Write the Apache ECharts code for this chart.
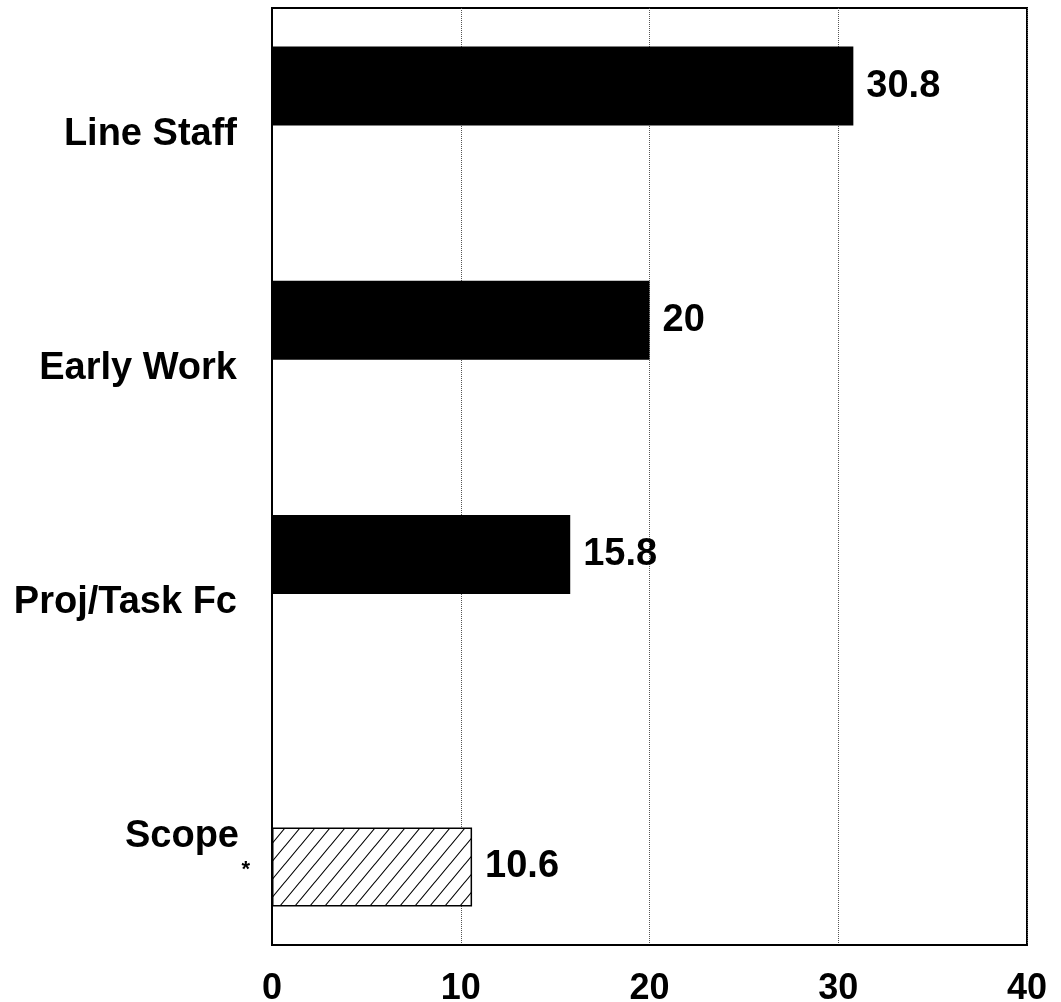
<!DOCTYPE html>
<html>
<head>
<meta charset="utf-8">
<style>
  html, body { margin: 0; padding: 0; background: #ffffff; }
  #chart { width: 1061px; height: 1002px; }
</style>
<script src="https://cdn.jsdelivr.net/npm/echarts@6/dist/echarts.min.js"></script>
</head>
<body>
<div id="chart"></div>
<script>
// ---- data ----
const categories = ['Line Staff', 'Early Work', 'Proj/Task Fc', 'Scope'];
const values = [30.8, 20, 15.8, 10.6];
const xTicks = [0, 10, 20, 30, 40];
const footnoteMark = '*';          // marker printed after "Scope"
const hatchedCategory = 'Scope';

// ---- layout of category slots (axis has 13 evenly spaced points) ----
const slotCount = 13;
const slotOf = [1, 4, 7, 11];

const axisCats = new Array(slotCount).fill('');
slotOf.forEach((s, i) => { axisCats[s] = categories[i]; });
const seriesData = new Array(slotCount).fill(null);

// hatch pattern
function makeHatch() {
  const w = 15, h = 18;
  const c = document.createElement('canvas');
  c.width = w; c.height = h;
  const g = c.getContext('2d');
  g.fillStyle = '#ffffff';
  g.fillRect(0, 0, w, h);
  g.strokeStyle = '#000000';
  g.lineWidth = 1.1;
  g.beginPath();
  for (let k = -1; k <= 1; k++) {
    g.moveTo(k * w - 2, h + 2 * h / w);
    g.lineTo(k * w + w + 2, -2 * h / w);
  }
  g.stroke();
  return c;
}

slotOf.forEach((s, i) => {
  const item = { value: values[i] };
  if (categories[i] === hatchedCategory) {
    item.itemStyle = {
      color: { image: makeHatch(), repeat: 'repeat' },
      borderColor: '#000000',
      borderWidth: 1.5
    };
  }
  seriesData[s] = item;
});

const FONT = "'Liberation Sans', Arial, sans-serif";

const chart = echarts.init(document.getElementById('chart'), null, { renderer: 'canvas' });
chart.setOption({
  animation: false,
  backgroundColor: '#ffffff',
  grid: {
    left: 272, right: 34, top: 8, bottom: 57,
    containLabel: false,
    outerBoundsMode: 'none',
    show: true, borderColor: '#000000', borderWidth: 2, backgroundColor: 'transparent'
  },
  xAxis: {
    type: 'value',
    min: xTicks[0], max: xTicks[xTicks.length - 1], interval: 10,
    axisLine: { show: true, lineStyle: { color: '#000', width: 2 } },
    axisTick: { show: false },
    splitLine: { show: true, lineStyle: { color: '#555', type: 'dotted', width: 1 } },
    axisLabel: {
      margin: 26, color: '#000', fontFamily: FONT, fontWeight: 'bold', fontSize: 36
    }
  },
  yAxis: {
    type: 'category',
    inverse: true,
    boundaryGap: false,
    data: axisCats,
    axisLine: { show: true, lineStyle: { color: '#000', width: 2 } },
    axisTick: { show: false },
    splitLine: { show: false },
    axisLabel: {
      interval: 0,
      margin: 22,
      color: '#000',
      fontFamily: FONT, fontWeight: 'bold', fontSize: 38,
      formatter: function (v) {
        if (!v) return '';
        if (v === hatchedCategory) return '{s|' + v + '}\n{a|' + footnoteMark + '}';
        return '{n|' + v + '}';
      },
      rich: {
        n: { fontFamily: FONT, fontWeight: 'bold', fontSize: 38, color: '#000', padding: [96, 13, 0, 0] },
        s: { fontFamily: FONT, fontWeight: 'bold', fontSize: 38, color: '#000', padding: [0, 11, 0, 0] },
        a: { fontFamily: FONT, fontWeight: 'bold', fontSize: 22, color: '#000', padding: [3, 0, 35, 0] }
      }
    }
  },
  series: [{
    type: 'bar',
    data: seriesData,
    barWidth: 79,
    itemStyle: { color: '#000000' },
    label: {
      show: true,
      position: 'right',
      distance: 13,
      color: '#000',
      fontFamily: FONT, fontWeight: 'bold', fontSize: 38
    }
  }]
});
</script>
</body>
</html>
